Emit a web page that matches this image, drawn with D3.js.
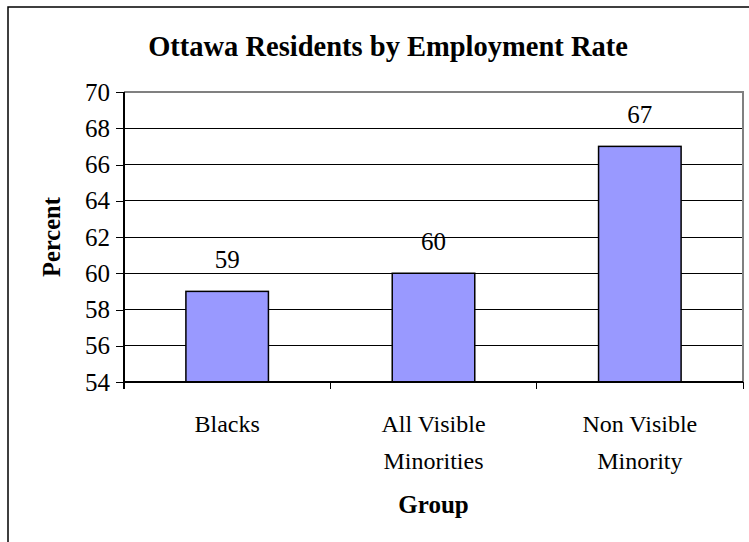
<!DOCTYPE html>
<html>
<head>
<meta charset="utf-8">
<script src="https://cdn.jsdelivr.net/npm/d3@7"></script>
<style>
  html, body { margin: 0; padding: 0; background: #fff; }
  svg { display: block; }
  text { font-family: "Liberation Serif", "Times New Roman", serif; fill: #000; }
</style>
</head>
<body>
<script>
// Employment rate by group (percent)
const categories = [["Blacks"], ["All Visible", "Minorities"], ["Non Visible", "Minority"]];
const values = [59, 60, 67];
const yTicks = [54, 56, 58, 60, 62, 64, 66, 68, 70];
const titleText = "Ottawa Residents by Employment Rate";
const xTitle = "Group";
const yTitle = "Percent";

const W = 749, H = 542;
const plot = { left: 124, right: 743, top: 92, bottom: 382 };

const svg = d3.select("body").append("svg")
  .attr("width", W).attr("height", H);

// chart frame
svg.append("rect")
  .attr("x", 8).attr("y", 7)
  .attr("width", W + 20).attr("height", H + 20)
  .attr("fill", "#fff").attr("stroke", "#000").attr("stroke-width", 1.5);

const keys = categories.map(c => c.join(" "));
const x = d3.scaleBand().domain(keys)
  .range([plot.left, plot.right])
  .paddingInner(0.6).paddingOuter(0.3);
const y = d3.scaleLinear().domain([54, 70]).range([plot.bottom, plot.top]);

// horizontal gridlines
svg.append("g").attr("shape-rendering", "crispEdges")
  .selectAll("line").data(yTicks.slice(1, -1)).join("line")
  .attr("x1", plot.left).attr("x2", plot.right)
  .attr("y1", d => y(d)).attr("y2", d => y(d))
  .attr("stroke", "#000").attr("stroke-width", 1);

// plot area border (top and right)
svg.append("path")
  .attr("d", `M${plot.left},${plot.top}H${plot.right}V${plot.bottom}`)
  .attr("fill", "none").attr("stroke", "#808080").attr("stroke-width", 1.5)
  .attr("shape-rendering", "crispEdges");

// bars
svg.append("g").selectAll("rect").data(values).join("rect")
  .attr("x", (d, i) => x(keys[i]))
  .attr("width", x.bandwidth())
  .attr("y", d => y(d))
  .attr("height", d => y(54) - y(d))
  .attr("fill", "#9999FF")
  .attr("stroke", "#000").attr("stroke-width", 1.5);

// value labels
svg.append("g").selectAll("text").data(values).join("text")
  .attr("x", (d, i) => x(keys[i]) + x.bandwidth() / 2)
  .attr("y", d => y(d) - 23.5)
  .attr("text-anchor", "middle")
  .attr("font-size", 25)
  .text(d3.format(".0f"));

// y axis
const yAxis = d3.axisLeft(y).tickValues(yTicks).tickSize(8).tickPadding(6)
  .tickFormat(d3.format("d"));
const gy = svg.append("g").attr("transform", `translate(${plot.left},0)`).call(yAxis);
gy.attr("font-family", null).attr("font-size", null);
gy.select(".domain").attr("d", `M0,${plot.top}V${plot.bottom + 7}`)
  .attr("stroke", "#000").attr("stroke-width", 1.5);
gy.selectAll(".tick line").attr("stroke", "#000").attr("stroke-width", 1);
gy.selectAll(".tick text").attr("font-size", 25).attr("fill", "#000");
gy.attr("shape-rendering", "crispEdges");

// x axis line and category separator ticks
const gx = svg.append("g").attr("shape-rendering", "crispEdges");
gx.append("line")
  .attr("x1", plot.left).attr("x2", plot.right)
  .attr("y1", plot.bottom).attr("y2", plot.bottom)
  .attr("stroke", "#000").attr("stroke-width", 1.5);
const edges = keys.map(k => x(k) - x.step() * x.paddingInner() / 2).concat([plot.right]);
edges[0] = plot.left;
gx.selectAll("line.sep").data(edges).join("line").attr("class", "sep")
  .attr("x1", d => d).attr("x2", d => d)
  .attr("y1", plot.bottom).attr("y2", plot.bottom + 7)
  .attr("stroke", "#000").attr("stroke-width", 1);

// category labels
const cat = svg.append("g").selectAll("text").data(categories).join("text")
  .attr("text-anchor", "middle")
  .attr("font-size", 24)
  .attr("x", (d, i) => x(keys[i]) + x.bandwidth() / 2)
  .attr("y", plot.bottom + 50);
cat.selectAll("tspan").data(d => d).join("tspan")
  .attr("x", function () { return d3.select(this.parentNode).attr("x"); })
  .attr("dy", (d, i) => i === 0 ? 0 : 37)
  .text(d => d);

// titles
svg.append("text")
  .attr("x", 388).attr("y", 56)
  .attr("text-anchor", "middle")
  .attr("font-size", 28.5).attr("font-weight", "bold")
  .text(titleText);

svg.append("text")
  .attr("x", (plot.left + plot.right) / 2).attr("y", 513)
  .attr("text-anchor", "middle")
  .attr("font-size", 25).attr("font-weight", "bold")
  .text(xTitle);

svg.append("text")
  .attr("transform", `translate(60,${(plot.top + plot.bottom) / 2}) rotate(-90)`)
  .attr("text-anchor", "middle")
  .attr("font-size", 24.5).attr("font-weight", "bold")
  .text(yTitle);
</script>
</body>
</html>
